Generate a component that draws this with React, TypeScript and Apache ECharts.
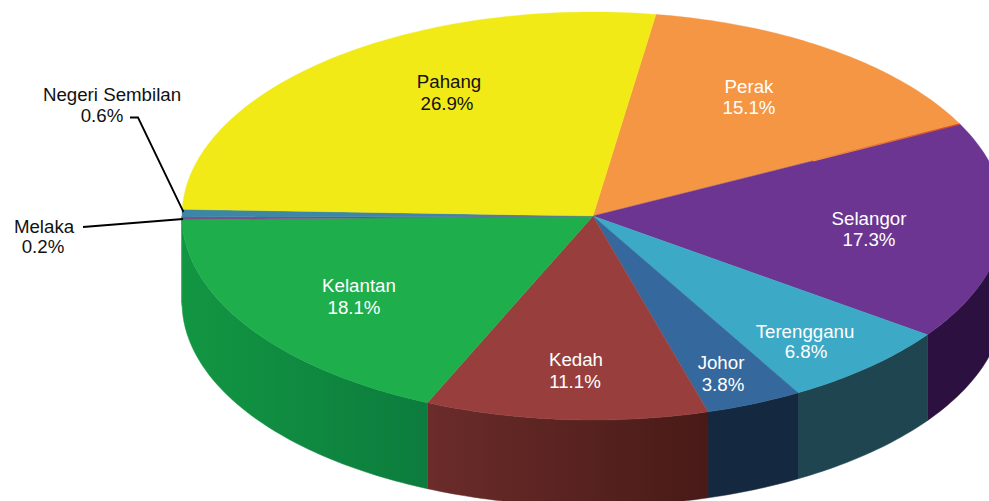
import React, { useEffect, useRef } from "react";
import * as echarts from "echarts";

const stateNames = ["Perak", "Selangor", "Terengganu", "Johor", "Kedah", "Kelantan", "Melaka", "Negeri Sembilan", "Pahang"];
const stateShares = [15.1, 17.3, 6.8, 3.8, 11.1, 18.1, 0.2, 0.6, 26.9];
const topColors = ["#f49644", "#6b3591", "#3ca9c6", "#35689c", "#983f3d", "#1eae4c", "#7a4e8a", "#3b87a5", "#f1ea17"];
const wallLeft = ["#c9742f", "#2b1040", "#1f4550", "#14283f", "#6b2c2a", "#129642", "#129642", "#129642", "#d8d215"];
const wallRight = ["#c9742f", "#2b1040", "#1f4550", "#14283f", "#481a17", "#0c7c3e", "#129642", "#129642", "#d8d215"];
const labelColors = ["#fff", "#fff", "#fff", "#fff", "#fff", "#fff", "#111", "#111", "#111"];
// [name centre x, name centre y, value centre x, value centre y]
const labelPlacement = [
  [749, 86, 749, 107],
  [869, 218, 869, 239],
  [805, 331, 806, 351],
  [721, 362, 723, 384],
  [576, 359, 575, 381],
  [359, 285, 354, 307],
  [44, 226, 43, 246],
  [112, 94, 102, 115],
  [449, 81, 447, 103],
];
const leaderLines = [
  [[130, 117.5], [138, 117.5], [183.5, 212]],
  [[83, 227], [183, 219]],
];

const CX = 593;
const CY = 216;
const RX = 411;
const RY = 204;
const DEPTH = 86;
const START_DEG = 81.2;
const FONT = '18.7px "Liberation Sans", Arial, sans-serif';

const total = stateShares.reduce((a, b) => a + b, 0);
const sweep = (i: number) => {
  let before = 0;
  for (let k = 0; k < i; k++) before += stateShares[k];
  const a0 = START_DEG - (before / total) * 360;
  return [a0, a0 - (stateShares[i] / total) * 360];
};
const rim = (deg: number, dy = 0) => {
  const t = (deg * Math.PI) / 180;
  return [CX + RX * Math.cos(t), CY - RY * Math.sin(t) + dy];
};
const arcPts = (from: number, to: number, dy = 0) => {
  const n = Math.max(2, Math.ceil(Math.abs(to - from)));
  const out: number[][] = [];
  for (let k = 0; k <= n; k++) out.push(rim(from + ((to - from) * k) / n, dy));
  return out;
};
// The part of a slice's rim that faces the viewer (sin < 0).
const frontRange = (a0: number, a1: number) => {
  const hi = Math.min(a0, 0);
  const lo = Math.max(a1, -180);
  return hi > lo ? [hi, lo] : null;
};

export default function App() {
  const ref = useRef<HTMLDivElement>(null);
  useEffect(() => {
    const chart = echarts.init(ref.current!, undefined, { renderer: "svg" });
    const items = stateShares.map((v, i) => ({ name: stateNames[i], value: [i, v] }));
    chart.setOption({
      animation: false,
      backgroundColor: "#fff",
      series: [
        {
          type: "custom",
          coordinateSystem: "none",
          z: 1,
          silent: true,
          data: items,
          renderItem: (_: any, api: any) => {
            const i = api.value(0);
            const [a0, a1] = sweep(i);
            const range = frontRange(a0, a1);
            if (!range) return { type: "group", children: [] };
            const pts = [...arcPts(range[0], range[1]), ...arcPts(range[1], range[0], DEPTH)];
            const fill = new echarts.graphic.LinearGradient(0, 0, 1, 0, [
              { offset: 0, color: wallLeft[i] },
              { offset: 1, color: wallRight[i] },
            ]);
            return { type: "polygon", shape: { points: pts }, style: { fill, stroke: fill, lineWidth: 0.5 } };
          },
        },
        {
          type: "custom",
          coordinateSystem: "none",
          z: 2,
          silent: true,
          data: items,
          renderItem: (_: any, api: any) => {
            const i = api.value(0);
            const [a0, a1] = sweep(i);
            return {
              type: "polygon",
              shape: { points: [[CX, CY], ...arcPts(a0, a1)] },
              style: { fill: topColors[i], stroke: topColors[i], lineWidth: 0.4 },
            };
          },
        },
        {
          // thin red seam along the outer part of the Perak / Selangor boundary
          type: "custom",
          coordinateSystem: "none",
          z: 3,
          silent: true,
          data: [[0]],
          renderItem: (_: any, api: any) => {
            const [x, y] = rim(sweep(api.value(0))[1]);
            return {
              type: "line",
              shape: { x1: CX + (x - CX) * 0.6, y1: CY + (y - CY) * 0.6, x2: x, y2: y },
              style: {
                lineWidth: 1.2,
                stroke: new echarts.graphic.LinearGradient(0, 0, 1, 0, [
                  { offset: 0, color: "#f49644" },
                  { offset: 1, color: "#d8432a" },
                ]),
              },
            };
          },
        },
        {
          type: "custom",
          coordinateSystem: "none",
          z: 4,
          silent: true,
          data: items,
          renderItem: (_: any, api: any) => {
            const i = api.value(0);
            const p = labelPlacement[i];
            const mk = (text: string, x: number, y: number) => ({
              type: "text",
              style: { text, x, y, fill: labelColors[i], font: FONT, align: "center", verticalAlign: "middle" },
            });
            return {
              type: "group",
              children: [mk(stateNames[i], p[0], p[1]), mk(api.value(1).toFixed(1) + "%", p[2], p[3])],
            };
          },
        },
        {
          type: "custom",
          coordinateSystem: "none",
          z: 5,
          silent: true,
          data: leaderLines.map((_, i) => [i]),
          renderItem: (_: any, api: any) => ({
            type: "polyline",
            shape: { points: leaderLines[api.value(0)] },
            style: { stroke: "#000", lineWidth: 1.8, fill: null },
          }),
        },
      ],
    });
    return () => chart.dispose();
  }, []);
  return <div ref={ref} style={{ position: "fixed", left: 0, top: 0, width: 989, height: 501 }} />;
}
